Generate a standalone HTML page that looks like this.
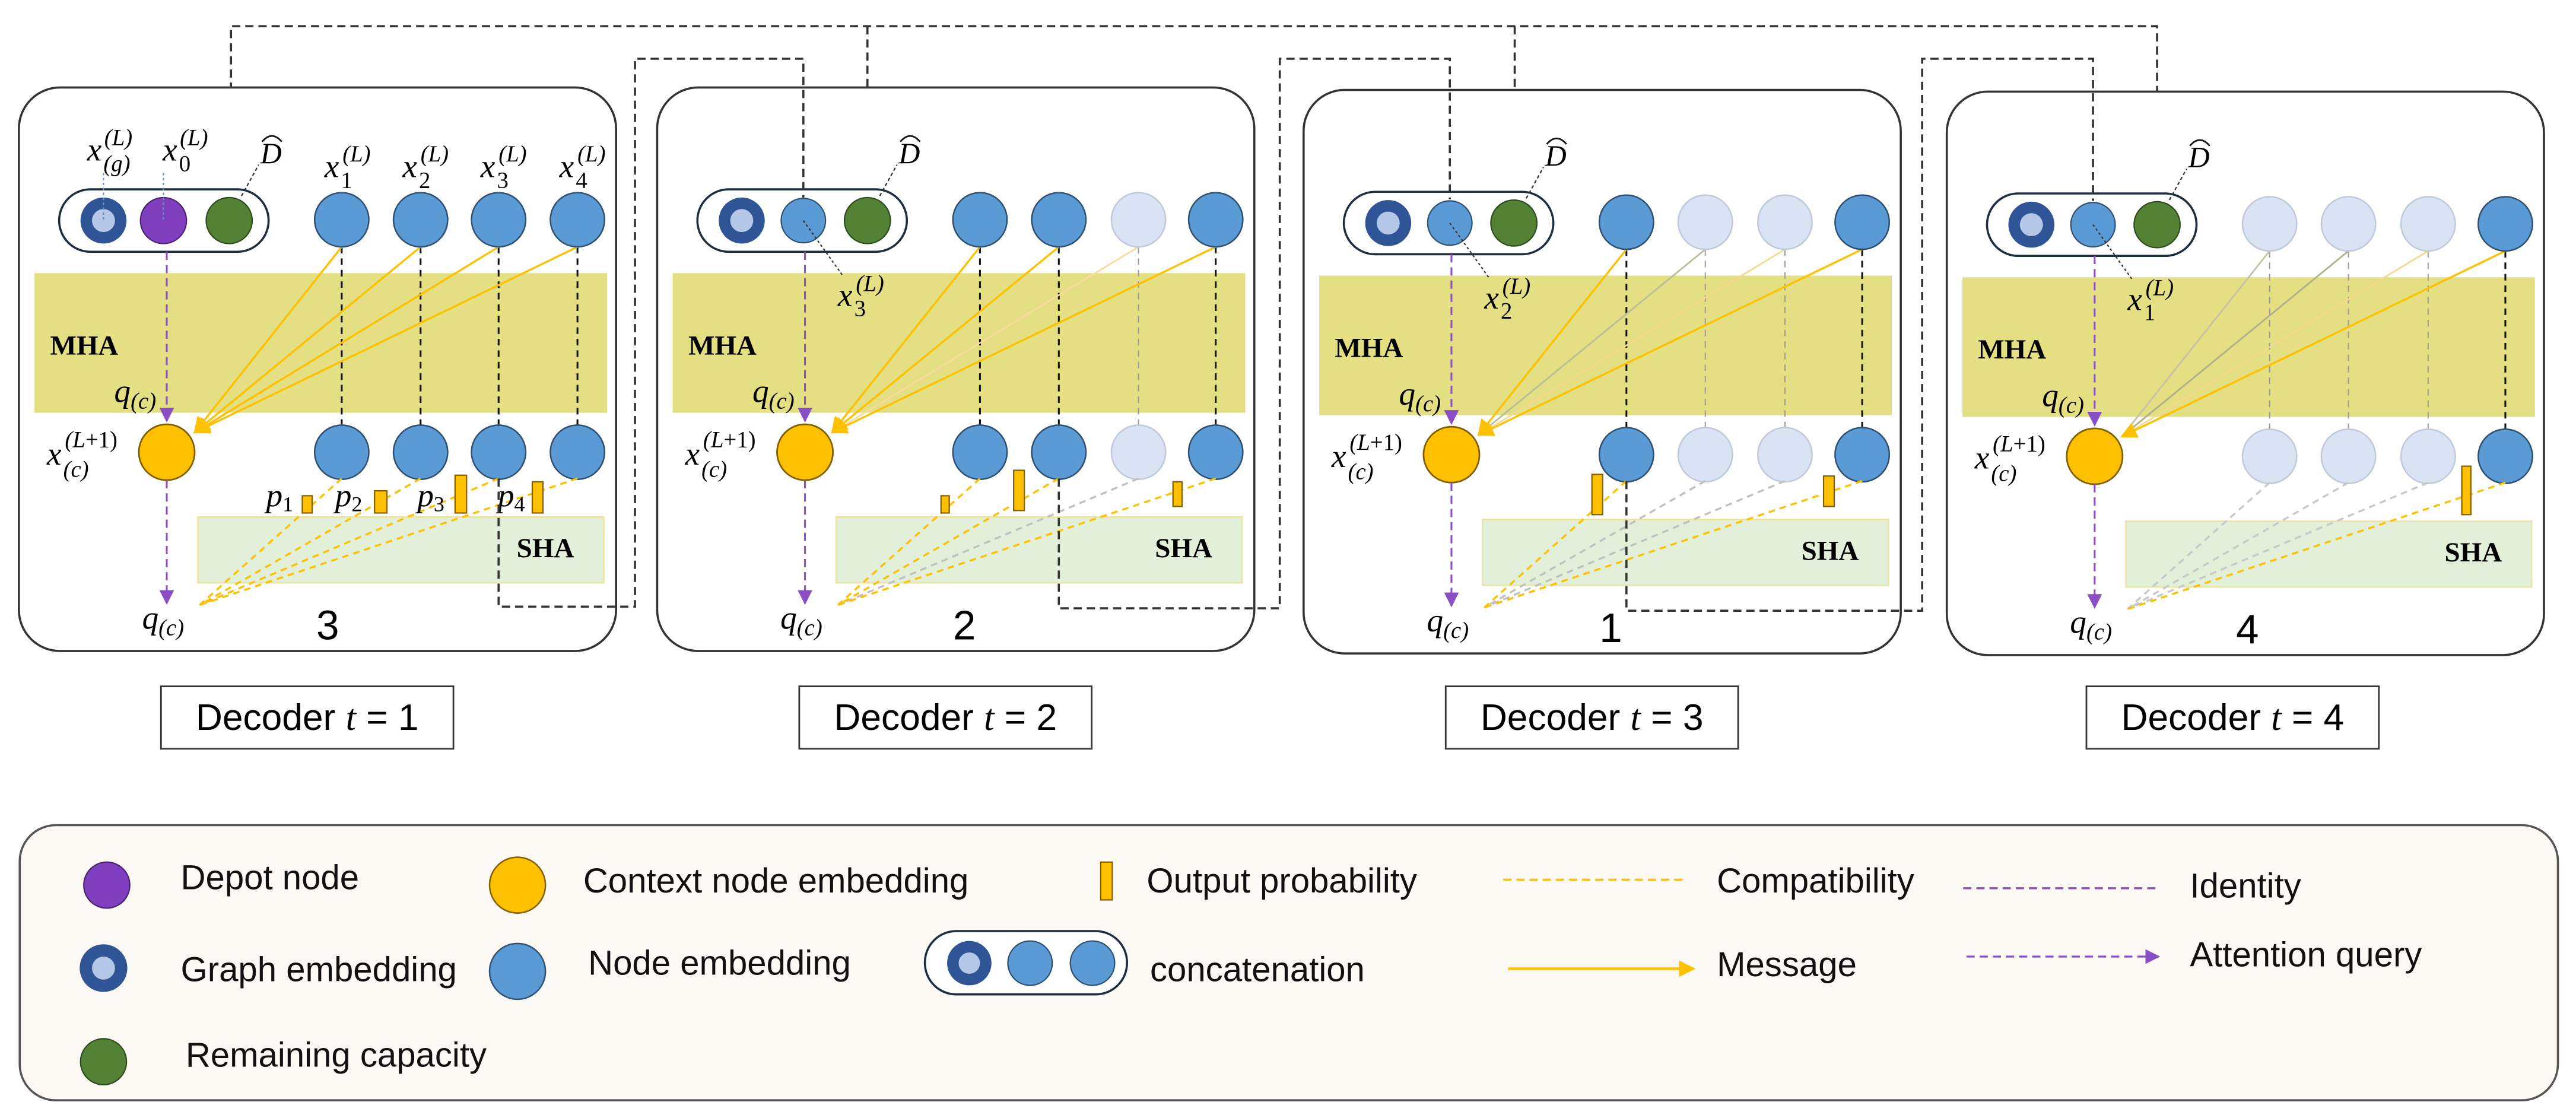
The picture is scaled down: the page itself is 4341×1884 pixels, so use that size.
<!DOCTYPE html>
<html><head><meta charset="utf-8"><style>
html,body{margin:0;padding:0;background:#fff;}
svg{display:block;}
.m{font-family:"Liberation Serif",serif;font-style:italic;}
.u{font-family:"Liberation Serif",serif;font-style:normal;}
.s{font-family:"Liberation Sans",sans-serif;}
.b{font-family:"Liberation Serif",serif;font-weight:bold;}
</style></head><body>
<svg width="4341" height="1884" viewBox="0 0 1568 680" xmlns="http://www.w3.org/2000/svg">
<defs>
<marker id="ya" viewBox="0 0 10 10" refX="9" refY="5" markerWidth="10" markerHeight="10" markerUnits="userSpaceOnUse" orient="auto"><path d="M0,0 L10,5 L0,10 z" fill="#ffc000"/></marker>
<marker id="pa" viewBox="0 0 10 10" refX="9" refY="5" markerWidth="9" markerHeight="9" markerUnits="userSpaceOnUse" orient="auto"><path d="M0,0 L10,5 L0,10 z" fill="#8a4fc4"/></marker>
<g id="base">
<rect x="0" y="53" width="363.5" height="343" rx="25" fill="#fff" stroke="#333" stroke-width="1.3"/>
<rect x="9.5" y="166" width="348.5" height="85" fill="#e3df82"/>
<rect x="109" y="314.5" width="247" height="40" fill="#e2efd9" stroke="#ebe6a6" stroke-width="1"/>
<text x="19" y="215.5" class="b" font-size="17">MHA</text>
<text x="303" y="339" class="b" font-size="17">SHA</text>
<rect x="24.5" y="115" width="127.5" height="38" rx="19" fill="#fff" stroke="#1f2d3d" stroke-width="1.3"/>
<circle cx="51.5" cy="134" r="14" fill="#2f5597"/><circle cx="51.5" cy="134" r="7" fill="#b4c7e7"/>
<circle cx="128" cy="134" r="14" fill="#548235" stroke="#2d4a1c" stroke-width=".8"/>
<circle cx="90" cy="275" r="17" fill="#ffc000" stroke="#7f6000" stroke-width="1"/>
<path d="M90 153 V256" stroke="#8a4fc4" stroke-width="1.1" stroke-dasharray="5,3" marker-end="url(#pa)"/>
<path d="M90 292 V367" stroke="#8a4fc4" stroke-width="1.1" stroke-dasharray="5,3" marker-end="url(#pa)"/>
<text x="58" y="244.5" class="m" font-size="20">q<tspan font-size="14" dy="4">(c)</tspan></text>
<text x="75" y="382.5" class="m" font-size="20">q<tspan font-size="14" dy="4">(c)</tspan></text>
<text x="17" y="282.5" class="m" font-size="20">x</text>
<text x="27" y="290" class="m" font-size="14">(c)</text>
<text x="28" y="272" class="m" font-size="14">(L<tspan class="u">+1)</tspan></text>
<text x="147" y="99" class="m" font-size="18">D</text>
<path d="M148 86 Q154 79 160 86" fill="none" stroke="#111" stroke-width="1"/>
<path d="M135.5 119 L146 100" stroke="#333" stroke-width=".8" stroke-dasharray="2,1.5"/>
</g>
</defs>

<g fill="none" stroke="#333" stroke-width="1.3" stroke-dasharray="5,3">
<path d="M140.6 119 V15.7 H1313 V122"/>
<path d="M528 15.7 V120"/>
<path d="M922 15.7 V121"/>
</g>

<!-- Panel 1 -->
<g transform="translate(11.5,0)">
<use href="#base"/>
<circle cx="88" cy="134" r="14" fill="#7f3fbf" stroke="#4a2070" stroke-width=".8"/>
<text x="41.5" y="97.5" class="m" font-size="20">x</text><text x="51.5" y="104" class="m" font-size="14">(g)</text><text x="52" y="88" class="m" font-size="14">(L)</text>
<text x="87.5" y="97.5" class="m" font-size="20">x</text><text x="97.5" y="104" class="u" font-size="14">0</text><text x="98" y="88" class="m" font-size="14">(L)</text>
<path d="M51.5 105 V134 M88 105 V134" stroke="#6a8fc9" stroke-width=".8" stroke-dasharray="1.5,1.5"/>
<text x="186" y="107.5" class="m" font-size="20">x</text><text x="196" y="114" class="u" font-size="14">1</text><text x="197" y="98" class="m" font-size="14">(L)</text>
<text x="233.5" y="107.5" class="m" font-size="20">x</text><text x="243.5" y="114" class="u" font-size="14">2</text><text x="244.5" y="98" class="m" font-size="14">(L)</text>
<text x="281" y="107.5" class="m" font-size="20">x</text><text x="291" y="114" class="u" font-size="14">3</text><text x="292" y="98" class="m" font-size="14">(L)</text>
<text x="329" y="107.5" class="m" font-size="20">x</text><text x="339" y="114" class="u" font-size="14">4</text><text x="340" y="98" class="m" font-size="14">(L)</text>
<g stroke="#111" stroke-width="1.1" stroke-dasharray="4,3"><path d="M196.5 150 V258.5 M244.5 150 V258.5 M292 150 V258.5 M340 150 V258.5"/></g>
<g stroke="#ffc000" stroke-width="1.2" marker-end="url(#ya)"><path d="M196.5 150 L107 263"/><path d="M244.5 150 L107 263"/><path d="M292 150 L107 263"/><path d="M340 150 L107 263"/></g>
<g fill="#5b9bd5" stroke="#2f4f70" stroke-width=".9">
<circle cx="196.5" cy="133.5" r="16.5"/><circle cx="244.5" cy="133.5" r="16.5"/><circle cx="292" cy="133.5" r="16.5"/><circle cx="340" cy="133.5" r="16.5"/>
<circle cx="196.5" cy="275" r="16.5"/><circle cx="244.5" cy="275" r="16.5"/><circle cx="292" cy="275" r="16.5"/><circle cx="340" cy="275" r="16.5"/></g>
<g stroke="#ffc000" stroke-width="1.2" stroke-dasharray="4,3"><path d="M196.5 291 L110 368"/><path d="M244.5 291 L110 368"/><path d="M292 291 L110 368"/><path d="M340 291 L110 368"/></g>
<g fill="#ffc000" stroke="#7f6000" stroke-width=".8"><rect x="172.5" y="301.5" width="6" height="10.5"/><rect x="216.5" y="298.5" width="7.5" height="13.5"/><rect x="265.5" y="289" width="7" height="23"/><rect x="312.5" y="293" width="6.5" height="19"/></g>
<text x="150.5" y="308" class="m" font-size="20">p<tspan class="u" font-size="13" dy="3">1</tspan></text>
<text x="192.5" y="308" class="m" font-size="20">p<tspan class="u" font-size="13" dy="3">2</tspan></text>
<text x="242.5" y="308" class="m" font-size="20">p<tspan class="u" font-size="13" dy="3">3</tspan></text>
<text x="291.5" y="308" class="m" font-size="20">p<tspan class="u" font-size="13" dy="3">4</tspan></text>
<text x="188" y="389" class="s" font-size="25" text-anchor="middle">3</text>
<rect x="86.5" y="417.5" width="178" height="38" fill="#fff" stroke="#333" stroke-width="1"/>
<text x="175.5" y="444" class="s" font-size="22.5" text-anchor="middle">Decoder <tspan class="m">t</tspan> = 1</text>
</g>

<!-- Panel 2 -->
<g transform="translate(400,0)">
<use href="#base"/>
<circle cx="89" cy="134" r="13.5" fill="#5b9bd5" stroke="#2f4f70" stroke-width=".8"/>
<path d="M89 134 L112.6 167" stroke="#333" stroke-width=".8" stroke-dasharray="1.5,1.5"/>
<text x="110" y="186" class="m" font-size="20">x</text><text x="120" y="192" class="u" font-size="14">3</text><text x="121" y="177" class="m" font-size="14">(L)</text>
<g stroke="#111" stroke-width="1.1" stroke-dasharray="4,3"><path d="M196.5 150 V258.5 M244.5 150 V258.5 M340 150 V258.5"/></g>
<path d="M293 150 V258.5" stroke="#999" stroke-width=".7" stroke-dasharray="4,3"/>
<path d="M293 150 L106.5 263" stroke="#f7dc9a" stroke-width="1"/>
<g stroke="#ffc000" stroke-width="1.2" marker-end="url(#ya)"><path d="M196.5 150 L106.5 263"/><path d="M244.5 150 L106.5 263"/><path d="M340 150 L106.5 263"/></g>
<g fill="#5b9bd5" stroke="#2f4f70" stroke-width=".9">
<circle cx="196.5" cy="133.5" r="16.5"/><circle cx="244.5" cy="133.5" r="16.5"/><circle cx="340" cy="133.5" r="16.5"/>
<circle cx="196.5" cy="275" r="16.5"/><circle cx="244.5" cy="275" r="16.5"/><circle cx="340" cy="275" r="16.5"/></g>
<g fill="#dae3f3" stroke="#bfc9d9" stroke-width=".9"><circle cx="293" cy="133.5" r="16.5"/><circle cx="293" cy="275" r="16.5"/></g>
<path d="M293 291 L110 368" stroke="#c0c0c0" stroke-width="1.2" stroke-dasharray="4,3"/>
<g stroke="#ffc000" stroke-width="1.2" stroke-dasharray="4,3"><path d="M196.5 291 L110 368"/><path d="M244.5 291 L110 368"/><path d="M340 291 L110 368"/></g>
<g fill="#ffc000" stroke="#7f6000" stroke-width=".8"><rect x="172.8" y="301.5" width="5" height="10.5"/><rect x="217" y="286" width="6.5" height="24.5"/><rect x="314" y="293" width="5.5" height="15"/></g>
<text x="187" y="389" class="s" font-size="25" text-anchor="middle">2</text>
<rect x="86.5" y="417.5" width="178" height="38" fill="#fff" stroke="#333" stroke-width="1"/>
<text x="175.5" y="444" class="s" font-size="22.5" text-anchor="middle">Decoder <tspan class="m">t</tspan> = 2</text>
</g>

<!-- Panel 3 -->
<g transform="translate(793.5,1.5)">
<use href="#base"/>
<circle cx="89" cy="134" r="13.5" fill="#5b9bd5" stroke="#2f4f70" stroke-width=".8"/>
<path d="M89 134 L112.6 167" stroke="#333" stroke-width=".8" stroke-dasharray="1.5,1.5"/>
<text x="110" y="186" class="m" font-size="20">x</text><text x="120" y="192" class="u" font-size="14">2</text><text x="121" y="177" class="m" font-size="14">(L)</text>
<g stroke="#111" stroke-width="1.1" stroke-dasharray="4,3"><path d="M196.5 150 V258.5 M340 150 V258.5"/></g>
<path d="M244.5 150 V258.5 M293 150 V258.5" stroke="#999" stroke-width=".7" stroke-dasharray="4,3"/>
<path d="M244.5 150 L106.5 263" stroke="#b9bd98" stroke-width="1"/><path d="M293 150 L106.5 263" stroke="#f4d98e" stroke-width="1"/>
<g stroke="#ffc000" stroke-width="1.2" marker-end="url(#ya)"><path d="M196.5 150 L106.5 263"/><path d="M340 150 L106.5 263"/></g>
<g fill="#5b9bd5" stroke="#2f4f70" stroke-width=".9">
<circle cx="196.5" cy="133.5" r="16.5"/><circle cx="340" cy="133.5" r="16.5"/>
<circle cx="196.5" cy="275" r="16.5"/><circle cx="340" cy="275" r="16.5"/></g>
<g fill="#dae3f3" stroke="#bfc9d9" stroke-width=".9"><circle cx="244.5" cy="133.5" r="16.5"/><circle cx="293" cy="133.5" r="16.5"/><circle cx="244.5" cy="275" r="16.5"/><circle cx="293" cy="275" r="16.5"/></g>
<g stroke="#c0c0c0" stroke-width="1.2" stroke-dasharray="4,3"><path d="M244.5 291 L110 368"/><path d="M293 291 L110 368"/></g>
<g stroke="#ffc000" stroke-width="1.2" stroke-dasharray="4,3"><path d="M196.5 291 L110 368"/><path d="M340 291 L110 368"/></g>
<g fill="#ffc000" stroke="#7f6000" stroke-width=".8"><rect x="175.5" y="287" width="6.5" height="24.5"/><rect x="316.5" y="288" width="6.5" height="18.5"/></g>
<text x="187" y="389" class="s" font-size="25" text-anchor="middle">1</text>
<rect x="86.5" y="416" width="178" height="38" fill="#fff" stroke="#333" stroke-width="1"/>
<text x="175.5" y="442.5" class="s" font-size="22.5" text-anchor="middle">Decoder <tspan class="m">t</tspan> = 3</text>
</g>

<!-- Panel 4 -->
<g transform="translate(1185,2.5)">
<use href="#base"/>
<circle cx="89" cy="134" r="13.5" fill="#5b9bd5" stroke="#2f4f70" stroke-width=".8"/>
<path d="M89 134 L112.6 167" stroke="#333" stroke-width=".8" stroke-dasharray="1.5,1.5"/>
<text x="110" y="186" class="m" font-size="20">x</text><text x="120" y="192" class="u" font-size="14">1</text><text x="121" y="177" class="m" font-size="14">(L)</text>
<path d="M340 150 V258.5" stroke="#111" stroke-width="1.1" stroke-dasharray="4,3"/>
<path d="M196.5 150 V258.5 M244.5 150 V258.5 M293 150 V258.5" stroke="#999" stroke-width=".7" stroke-dasharray="4,3"/>
<path d="M196.5 150 L106.5 263" stroke="#c3c2a6" stroke-width="1"/><path d="M244.5 150 L106.5 263" stroke="#aeb08c" stroke-width="1"/><path d="M293 150 L106.5 263" stroke="#f4d98e" stroke-width="1"/>
<path d="M340 150 L106.5 263" stroke="#ffc000" stroke-width="1.2" marker-end="url(#ya)"/>
<g fill="#5b9bd5" stroke="#2f4f70" stroke-width=".9"><circle cx="340" cy="133.5" r="16.5"/><circle cx="340" cy="275" r="16.5"/></g>
<g fill="#dae3f3" stroke="#bfc9d9" stroke-width=".9"><circle cx="196.5" cy="133.5" r="16.5"/><circle cx="244.5" cy="133.5" r="16.5"/><circle cx="293" cy="133.5" r="16.5"/><circle cx="196.5" cy="275" r="16.5"/><circle cx="244.5" cy="275" r="16.5"/><circle cx="293" cy="275" r="16.5"/></g>
<g stroke="#c8c8c8" stroke-width="1.2" stroke-dasharray="4,3"><path d="M196.5 291 L110 368"/><path d="M244.5 291 L110 368"/><path d="M293 291 L110 368"/></g>
<path d="M340 291 L110 368" stroke="#ffc000" stroke-width="1.2" stroke-dasharray="4,3"/>
<g fill="#ffc000" stroke="#7f6000" stroke-width=".8"><rect x="313.5" y="281" width="5.5" height="29.5"/></g>
<text x="183" y="389" class="s" font-size="25" text-anchor="middle">4</text>
<rect x="85" y="415" width="178" height="38" fill="#fff" stroke="#333" stroke-width="1"/>
<text x="174" y="441.5" class="s" font-size="22.5" text-anchor="middle">Decoder <tspan class="m">t</tspan> = 4</text>
</g>

<g fill="none" stroke="#333" stroke-width="1.3" stroke-dasharray="5,3">
<path d="M303.5 291 V369 H386.5 V35.5 H489 V120"/>
<path d="M644.5 291 V370 H779 V35.5 H882.5 V121"/>
<path d="M990 292.5 V371.5 H1170 V35.5 H1274 V122"/>
</g>

<!-- Legend -->
<rect x="12" y="502" width="1545" height="167.5" rx="22" fill="#fcf9f5" stroke="#555" stroke-width="1.3"/>
<g class="s" font-size="21" fill="#111">
<circle cx="65" cy="538.5" r="14" fill="#7f3fbf" stroke="#4a2070" stroke-width=".8"/>
<text x="110" y="541">Depot node</text>
<circle cx="315" cy="538.5" r="17" fill="#ffc000" stroke="#7f6000" stroke-width=".9"/>
<text x="355" y="543">Context node embedding</text>
<rect x="670" y="524.5" width="7" height="23" fill="#ffc000" stroke="#7f6000" stroke-width=".8"/>
<text x="698" y="543">Output probability</text>
<path d="M915 535.2 H1027" stroke="#ffc000" stroke-width="1.3" stroke-dasharray="5,3"/>
<text x="1045" y="543">Compatibility</text>
<path d="M1195 540.4 H1313" stroke="#8a4fc4" stroke-width="1.2" stroke-dasharray="5,3"/>
<text x="1333" y="546">Identity</text>
<circle cx="63" cy="589" r="14.5" fill="#2f5597"/><circle cx="63" cy="589" r="7" fill="#b4c7e7"/>
<text x="110" y="597">Graph embedding</text>
<circle cx="315" cy="591" r="17" fill="#5b9bd5" stroke="#2f4f70" stroke-width=".9"/>
<text x="358" y="593">Node embedding</text>
<rect x="563" y="566.5" width="123" height="38.5" rx="19" fill="#fff" stroke="#1f2d3d" stroke-width="1.3"/>
<circle cx="590" cy="586" r="13.5" fill="#2f5597"/><circle cx="590" cy="586" r="6.5" fill="#b4c7e7"/>
<circle cx="627" cy="586" r="13.5" fill="#5b9bd5" stroke="#2f4f70" stroke-width=".8"/>
<circle cx="665" cy="586" r="13.5" fill="#5b9bd5" stroke="#2f4f70" stroke-width=".8"/>
<text x="700" y="597">concatenation</text>
<path d="M918 589.4 H1031" stroke="#ffc000" stroke-width="1.6" marker-end="url(#ya)"/>
<text x="1045" y="594">Message</text>
<path d="M1197 582 H1314" stroke="#8a4fc4" stroke-width="1.2" stroke-dasharray="5,3" marker-end="url(#pa)"/>
<text x="1333" y="588">Attention query</text>
<circle cx="63" cy="646" r="14" fill="#548235" stroke="#2d4a1c" stroke-width=".8"/>
<text x="113" y="649">Remaining capacity</text>
</g>
</svg>
</body></html>
